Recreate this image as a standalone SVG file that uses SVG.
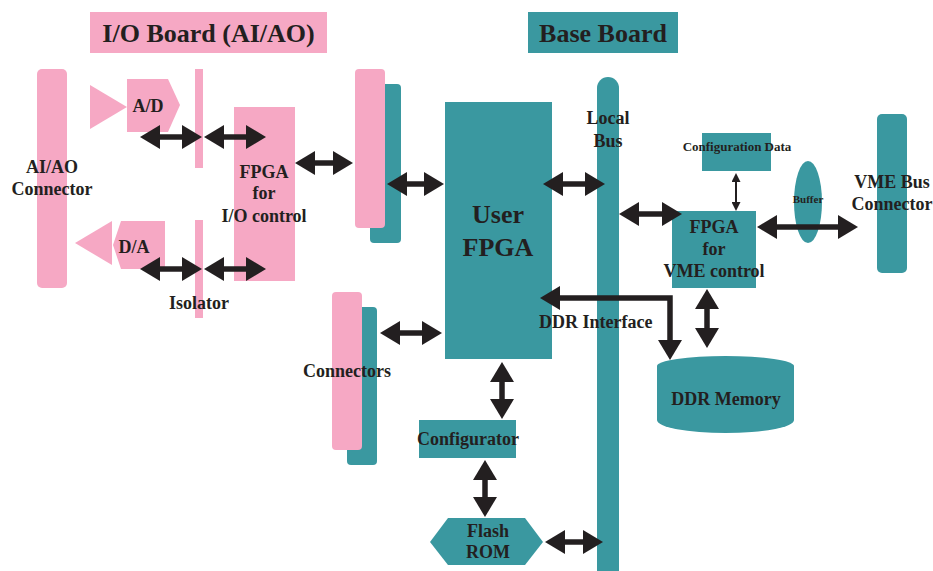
<svg xmlns="http://www.w3.org/2000/svg" width="933" height="571" viewBox="0 0 933 571">
<defs>
<style>
.p{fill:#F6A8C4}
.t{fill:#3A98A0}
text{font-family:"Liberation Serif","Times New Roman",serif;font-weight:bold;fill:#231F20;font-size:18px;text-anchor:middle}
.big{font-size:26px}
.sm{font-size:13px}
.xs{font-size:11px}
.c{stroke:#231F20;stroke-width:5.5;fill:none;marker-start:url(#ah);marker-end:url(#ah)}
.thin{stroke:#231F20;stroke-width:2;fill:none;marker-start:url(#ahs);marker-end:url(#ahs)}
</style>
<marker id="ah" markerUnits="userSpaceOnUse" markerWidth="20" markerHeight="24" viewBox="0 0 20 24" refX="10" refY="12" orient="auto-start-reverse"><path d="M0,0 L20,12 L0,24 Z" fill="#231F20"/></marker>
<marker id="ahs" markerUnits="userSpaceOnUse" markerWidth="9" markerHeight="9" viewBox="0 0 9 9" refX="4" refY="4.5" orient="auto-start-reverse"><path d="M0,0 L9,4.5 L0,9 Z" fill="#231F20"/></marker>
</defs>
<rect width="933" height="571" fill="#fff"/>

<g id="title-io"><rect class="p" x="90" y="12" width="237" height="41"/><text class="big" x="208.5" y="42">I/O Board (AI/AO)</text></g>
<g id="title-base"><rect class="t" x="528" y="12" width="150" height="41"/><text class="big" x="603" y="42">Base Board</text></g>

<g id="aiao-connector"><rect class="p" x="37" y="69" width="30" height="219" rx="5"/><text x="52" y="173">AI/AO</text><text x="52" y="195">Connector</text></g>
<g id="ad"><polygon class="p" points="90,85 127,107 90,129"/><polygon class="p" points="127,79 168,79 180,105 168,132 127,132"/><text x="148" y="112">A/D</text></g>
<g id="da"><polygon class="p" points="75,243 112,221 112,265"/><polygon class="p" points="121,221 165,221 165,269 121,269 113,245"/><text x="134" y="253">D/A</text></g>
<g id="isolator"><rect class="p" x="195" y="69" width="8" height="99"/><rect class="p" x="195" y="220" width="8" height="98"/><text x="199" y="309">Isolator</text></g>
<g id="fpga-io"><rect class="p" x="234" y="107" width="61" height="174"/><text x="264" y="178">FPGA</text><text x="264" y="199">for</text><text x="264" y="222">I/O control</text></g>

<g id="board-connector"><rect class="t" x="370" y="84" width="31" height="159" rx="4"/><rect class="p" x="355" y="69" width="30" height="159" rx="4"/></g>
<g id="connectors"><rect class="t" x="347" y="307" width="30" height="158" rx="4"/><rect class="p" x="332" y="292" width="30" height="158" rx="4"/><text x="347" y="377">Connectors</text></g>
<g id="user-fpga"><rect class="t" x="445" y="102" width="107" height="257"/><text class="big" x="498" y="223">User</text><text class="big" x="498" y="256">FPGA</text></g>
<g id="local-bus"><rect class="t" x="597" y="77" width="22" height="510" rx="11"/><text x="608" y="124">Local</text><text x="608" y="147">Bus</text></g>
<g id="configurator"><rect class="t" x="419" y="420" width="97" height="38"/><text x="468" y="445">Configurator</text></g>
<g id="flash-rom"><polygon class="t" points="430,542 448,518 525,518 543,542 525,565 448,565"/><text x="488" y="537">Flash</text><text x="488" y="558">ROM</text></g>
<g id="config-data"><rect class="t" x="702" y="133" width="69" height="38"/><text class="sm" x="737" y="151">Configuration Data</text></g>
<g id="fpga-vme"><rect class="t" x="672" y="211" width="84" height="77"/><text x="714" y="233">FPGA</text><text x="714" y="255">for</text><text x="714" y="277">VME control</text></g>
<g id="buffer"><ellipse class="t" cx="808" cy="202" rx="14" ry="41"/><text class="xs" x="808" y="203">Buffer</text></g>
<g id="vme-connector"><rect class="t" x="877" y="114" width="30" height="159" rx="5"/><text x="892" y="188">VME Bus</text><text x="892" y="210">Connector</text></g>
<g id="ddr-memory"><path class="t" d="M657,366 A68.5,10 0 0 1 794,366 V420 A68.5,13 0 0 1 657,420 Z"/><text x="726" y="405">DDR Memory</text></g>

<g id="connectors-lines">
<line class="c" x1="150" y1="137" x2="192" y2="137"/>
<line class="c" x1="214" y1="137" x2="256" y2="137"/>
<line class="c" x1="150" y1="269" x2="192" y2="269"/>
<line class="c" x1="214" y1="269" x2="256" y2="269"/>
<line class="c" x1="305" y1="163" x2="343" y2="163"/>
<line class="c" x1="397" y1="184" x2="434" y2="184"/>
<line class="c" x1="390" y1="333" x2="432" y2="333"/>
<line class="c" x1="553" y1="184" x2="595" y2="184"/>
<line class="c" x1="629" y1="214" x2="672" y2="214"/>
<line class="c" x1="767" y1="227" x2="848" y2="227"/>
<line class="c" x1="555" y1="542" x2="593" y2="542"/>
<line class="c" x1="502" y1="372" x2="502" y2="409"/>
<line class="c" x1="485" y1="470" x2="485" y2="507"/>
<line class="c" x1="707" y1="299" x2="707" y2="338"/>
<line class="thin" x1="736" y1="178" x2="736" y2="206"/>
<path class="c" d="M550,298 H670 V350"/>
<text x="539" y="328" style="text-anchor:start">DDR Interface</text>
</g>
</svg>
